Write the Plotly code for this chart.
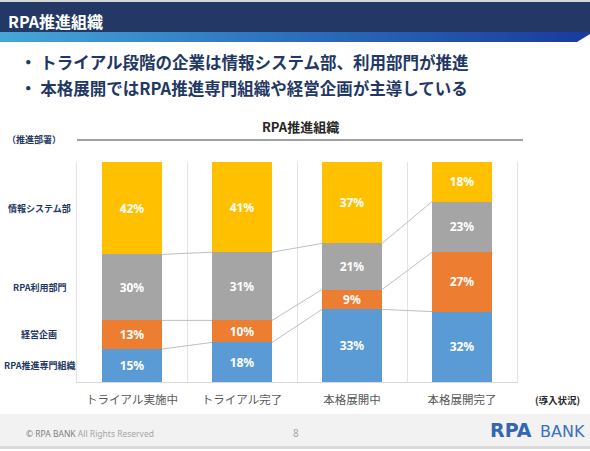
import base64
import numpy as np
import plotly.graph_objects as go

# data (percent of companies by deployment stage)
categories = ["トライアル実施中", "トライアル完了", "本格展開中", "本格展開完了"]
series_names = ["RPA推進専門組織", "経営企画", "RPA利用部門", "情報システム部"]
senmon = [15, 18, 33, 32]
keiei = [13, 10, 9, 27]
riyou = [30, 31, 21, 23]
joho = [42, 41, 37, 18]
series_colors = ["#5B9BD5", "#ED7D31", "#A5A5A5", "#FFC000"]

bullets = [
    "トライアル段階の企業は情報システム部、利用部門が推進",
    "本格展開ではRPA推進専門組織や経営企画が主導している",
]

JP = "Noto Sans CJK JP"
NAVY = "#1F3864"

# page geometry (pixels) -> paper coords helpers
PAGE_W, PAGE_H = 590, 451
L, R, T, B = 77, 517, 162, 382
W, H = R - L, B - T


def px(x):
    return (x - L) / W


def py(y):
    return (B - y) / H


bargap = 50 / 110
values = [senmon, keiei, riyou, joho]
x = np.arange(len(categories))

fig = go.Figure()

for name, vals, col in zip(series_names, values, series_colors):
    fig.add_trace(go.Bar(
        x=x, y=vals, name=name, marker=dict(color=col, line=dict(width=0)),
        texttemplate="%{y}%", textposition="inside", insidetextanchor="middle",
        textangle=0,
        textfont=dict(color="white", size=12, family="Noto Sans", weight="bold"),
        hoverinfo="skip",
    ))

# connector lines between the stacked segments of neighbouring bars
cum = np.cumsum(np.array(values), axis=0)[:-1]
half = (1 - bargap) / 2
lx, ly = [], []
for level in cum:
    for i in range(len(categories) - 1):
        lx += [x[i] + half, x[i + 1] - half, None]
        ly += [level[i], level[i + 1], None]
fig.add_trace(go.Scatter(x=lx, y=ly, mode="lines",
                         line=dict(color="#BFBFBF", width=1),
                         hoverinfo="skip", showlegend=False))

# gradient stripe under the header bar
svg = ('<svg xmlns="http://www.w3.org/2000/svg" width="590" height="10" '
       'viewBox="0 0 590 10" preserveAspectRatio="none"><defs>'
       '<linearGradient id="g" x1="0" x2="1" y1="0" y2="0">'
       '<stop offset="0" stop-color="#45A7D8"/>'
       '<stop offset="0.5" stop-color="#2B6FBD"/>'
       '<stop offset="1" stop-color="#1A3A9C"/></linearGradient></defs>'
       '<polygon points="0,0 590,0 590,2 577,10 0,10" fill="url(#g)"/></svg>')
svg_src = "data:image/svg+xml;base64," + base64.b64encode(svg.encode()).decode()

shapes = [
    dict(type="rect", xref="paper", yref="paper", x0=px(0), x1=px(PAGE_W),
         y0=py(0), y1=py(2), fillcolor="#D6D6D6", line=dict(width=0)),
    dict(type="rect", xref="paper", yref="paper", x0=px(0), x1=px(PAGE_W),
         y0=py(2), y1=py(32), fillcolor="#233864", line=dict(width=0)),
    # chart title underline
    dict(type="line", xref="paper", yref="paper", x0=px(77), x1=px(523),
         y0=py(140), y1=py(140), line=dict(color="#808080", width=1.5)),
    # footer band
    dict(type="rect", xref="paper", yref="paper", x0=px(0), x1=px(PAGE_W),
         y0=py(414), y1=py(446), fillcolor="#F2F2F2", line=dict(width=0)),
    dict(type="rect", xref="paper", yref="paper", x0=px(0), x1=px(PAGE_W),
         y0=py(446), y1=py(449), fillcolor="#DADADA", line=dict(width=0)),
]

annotations = [
    dict(text="<b>RPA推進組織</b>", x=px(6), y=py(21), xanchor="left",
         font=dict(family=JP, size=16, color="white")),
    dict(text="<b>RPA推進組織</b>", x=px(300), y=py(127),
         font=dict(family=JP, size=13, color="#262626")),
    dict(text="<b>（推進部署）</b>", x=px(34), y=py(140),
         font=dict(family=JP, size=9, color=NAVY)),
    dict(text="<b>(導入状況)</b>", x=px(557), y=py(400),
         font=dict(family=JP, size=9.5, color="#262626")),
    dict(text="<span style='color:#7F7F7F'>© RPA BANK</span> All Rights Reserved",
         x=px(24), y=py(433), xanchor="left",
         font=dict(family="Noto Sans", size=8.5, color="#A6A6A6")),
    dict(text="8", x=px(296), y=py(433),
         font=dict(family="Noto Sans", size=10, color="#A6A6A6")),
    dict(text="<b>RPA</b>", x=px(488), y=py(430), xanchor="left",
         font=dict(family="DejaVu Sans", size=19, color="#3566B0")),
    dict(text="BANK", x=px(587), y=py(431), xanchor="right",
         font=dict(family="DejaVu Sans", size=16, color="#3B70C0")),
]
for i, line in enumerate(bullets):
    yy = 62 + 26 * i
    annotations.append(dict(text=f"<b>・ {line}</b>", x=px(18), y=py(yy), xanchor="left",
                            font=dict(family=JP, size=16.5, color=NAVY)))

# series labels on the left, aligned with the first bar's segments
first = np.array([v[0] for v in values])
centers = np.cumsum(first) - first / 2
for name, c in zip(series_names, centers):
    annotations.append(dict(text=f"<b>{name}</b>", x=px(39), y=c, yref="y",
                            font=dict(family=JP, size=9, color=NAVY)))

for a in annotations:
    a.setdefault("xref", "paper")
    a.setdefault("yref", "paper")
    a.setdefault("showarrow", False)
    a.setdefault("xanchor", "center")
    a.setdefault("yanchor", "middle")

fig.update_layout(
    width=PAGE_W, height=PAGE_H, autosize=False,
    margin=dict(l=L, r=PAGE_W - R, t=T, b=PAGE_H - B, pad=0),
    barmode="stack", bargap=bargap, showlegend=False,
    paper_bgcolor="white", plot_bgcolor="white",
    uniformtext=dict(minsize=12, mode="show"),
    shapes=shapes, annotations=annotations,
    images=[dict(source=svg_src, xref="paper", yref="paper", x=px(0), y=py(32),
                 sizex=PAGE_W / W, sizey=10 / H, xanchor="left", yanchor="top",
                 sizing="stretch", layer="above")],
    xaxis=dict(range=[-0.5, len(categories) - 0.5], tickmode="array",
               tickvals=list(x), ticktext=categories, showgrid=False,
               zeroline=False, showline=True, linecolor="#D9D9D9", linewidth=1,
               ticks="", ticklabelstandoff=7, fixedrange=True,
               tickfont=dict(family=JP, size=11.5, color="#595959"),
               minor=dict(tickmode="array",
                          tickvals=[i + 0.5 for i in range(len(categories) - 1)],
                          showgrid=True, gridcolor="#E3E3E3", gridwidth=1, ticks="")),
    yaxis=dict(range=[0, 100], showgrid=False, zeroline=False,
               showticklabels=False, ticks="", showline=True, mirror=True,
               linecolor="#E3E3E3", linewidth=1, fixedrange=True),
)

# drop the browser's default body margin so the slide sits at the page corner
fig.write_html("out.html", config={"displayModeBar": False},
               post_script="document.body.style.margin='0';")
